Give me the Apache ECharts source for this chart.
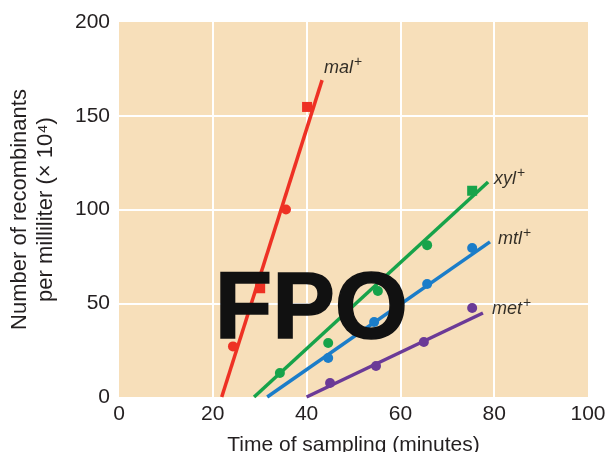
<!DOCTYPE html>
<html><head><meta charset="utf-8">
<script src="https://cdn.jsdelivr.net/npm/echarts@6/dist/echarts.min.js"></script>
<style>html,body{margin:0;padding:0;background:#fff}#c{width:608px;height:452px}</style>
</head><body><div id="c"></div>
<script>
// measured points [time, recombinants, symbol]
const malPoints = [[24.3, 27, 'circle'], [30.1, 58, 'rect'], [35.6, 100, 'circle'], [40.1, 154.7, 'rect']];
const xylPoints = [[34.3, 12.8, 'circle'], [44.6, 28.8, 'circle'], [55.2, 56.5, 'circle'], [65.7, 81, 'circle'], [75.3, 110, 'rect']];
const mtlPoints = [[44.6, 20.8, 'circle'], [54.4, 40, 'circle'], [65.7, 60.3, 'circle'], [75.3, 79.5, 'circle']];
const metPoints = [[45, 7.5, 'circle'], [54.8, 16.5, 'circle'], [65, 29.3, 'circle'], [75.3, 47.5, 'circle']];
// fitted line endpoints
const malLine = [[21.9, 0], [43.3, 169]];
const xylLine = [[28.8, 0], [78.7, 114.7]];
const mtlLine = [[31.6, 0], [79.1, 82.7]];
const metLine = [[40.0, 0], [77.6, 44.8]];
const seriesNames = ['mal', 'xyl', 'mtl', 'met'];
const colors = ['#EE3124', '#17A34A', '#1B7DC9', '#6B3A97'];
const xTicks = [0, 20, 40, 60, 80, 100];
const yTicks = [0, 50, 100, 150, 200];

const labelOffsets = [[-4, -14], [0, -5], [2, -5], [3, -6]];
const pointSets = [malPoints, xylPoints, mtlPoints, metPoints];
const lineSets = [malLine, xylLine, mtlLine, metLine];
const series = [];
lineSets.forEach((ln, i) => {
  series.push({
    type: 'line', data: ln, showSymbol: false, symbol: 'none',
    lineStyle: { color: colors[i], width: 3.5 }, z: 2, silent: true
  });
  series.push({
    type: 'scatter', data: pointSets[i].map(p => ({ value: [p[0], p[1]], symbol: p[2] })),
    symbolSize: 10, itemStyle: { color: colors[i], opacity: 1 }, z: 3
  });
  // series name label at the end of the fitted line
  series.push({
    type: 'scatter', data: [ln[ln.length - 1]], symbolSize: 2, itemStyle: { color: 'rgba(0,0,0,0)' }, silent: true, z: 4,
    label: { show: true, formatter: '{a|' + seriesNames[i] + '}{b|+}', position: 'right', offset: labelOffsets[i],
      color: '#000',
      rich: {
        a: { fontFamily: 'Liberation Sans', fontStyle: 'italic', fontSize: 18, lineHeight: 22, color: '#000', verticalAlign: 'bottom' },
        b: { fontFamily: 'Liberation Sans', fontSize: 14, lineHeight: 22, color: '#000', verticalAlign: 'top', padding: [0, 0, 0, 1] }
      } }
  });
});

const chart = echarts.init(document.getElementById('c'), null, { renderer: 'canvas' });
chart.setOption({
  animation: false,
  grid: { left: 119, right: 20, top: 22, bottom: 55, outerBoundsMode: 'none', containLabel: false,
    show: true, backgroundColor: '#F7DFBA', borderWidth: 0 },
  xAxis: {
    type: 'value', min: xTicks[0], max: xTicks[xTicks.length - 1], interval: 20,
    name: 'Time of sampling (minutes)', nameLocation: 'middle', nameGap: 38,
    nameTextStyle: { fontFamily: 'Liberation Sans', fontSize: 21, color: '#231F20' },
    axisLine: { show: false }, axisTick: { show: false },
    axisLabel: { margin: 7, fontFamily: 'Liberation Sans', fontSize: 21, color: '#231F20' },
    splitLine: { show: true, showMinLine: false, showMaxLine: false, lineStyle: { color: '#ffffff', width: 2 } }
  },
  yAxis: {
    type: 'value', min: yTicks[0], max: yTicks[yTicks.length - 1], interval: 50,
    name: 'Number of recombinants\nper milliliter (× 10⁴)', nameLocation: 'middle', nameGap: 60, nameRotate: 90,
    nameTextStyle: { fontFamily: 'Liberation Sans', fontSize: 22, lineHeight: 26, color: '#231F20' },
    axisLine: { show: false }, axisTick: { show: false },
    axisLabel: { margin: 9, fontFamily: 'Liberation Sans', fontSize: 21, color: '#231F20' },
    splitLine: { show: true, showMinLine: false, showMaxLine: false, lineStyle: { color: '#ffffff', width: 2 } }
  },
  graphic: [{
    type: 'text', left: 214, top: 264, z: 100,
    style: { text: 'FPO', font: 'bold 94px "Liberation Sans"', fill: '#111111', stroke: '#111111', lineWidth: 1.5 }
  }],
  series: series
});
</script></body></html>
